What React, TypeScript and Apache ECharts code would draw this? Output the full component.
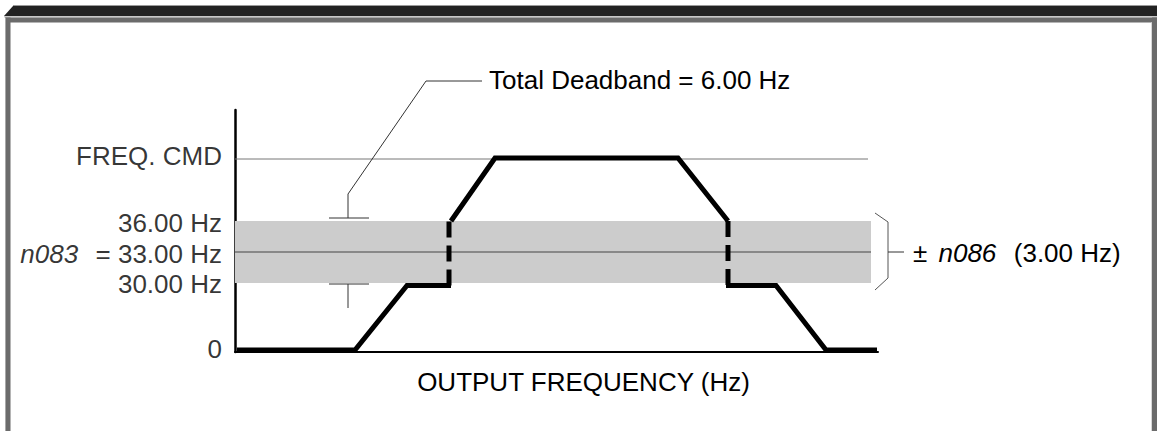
import React, { useEffect, useRef } from "react";
import * as echarts from "echarts";

// Schematic axis units (not to scale, as in the original diagram)
const X_MAX = 64.3;
const Y_MAX = 24.2;

// Y levels
const yLevelLabels = ["0", "30.00 Hz", "{i|n083}  = 33.00 Hz", "36.00 Hz", "FREQ. CMD"];
const yLevelValues = [0, 6.9, 10, 13.1, 19.3];
const yLabelNudge = [-3, 1, 1.5, 1.5, -3.5];

// Deadband band
const bandLow = 6.9;
const bandHigh = 13.1;
const bandEndX = 63.6;
const cmdLineEndX = 63.3;

// Output frequency trace (solid parts and dashed jumps)
const traceRise: number[][] = [[0.2, 0.2], [12.0, 0.2], [17.2, 6.65], [21.6, 6.65]];
const jumpUp: number[][] = [[21.4, 6.65], [21.4, 13.1]];
const traceTop: number[][] = [[21.6, 13.1], [26.0, 19.4], [44.3, 19.4], [49.3, 13.1]];
const jumpDown: number[][] = [[49.3, 13.1], [49.3, 6.65]];
const traceFall: number[][] = [[49.1, 6.65], [54.1, 6.65], [59.1, 0.2], [64.2, 0.2]];

// Annotations
const deadbandLeader: number[][] = [[24.7, 27.1], [19.1, 27.1], [11.3, 15.8], [11.3, 13.4]];
const deadbandTopTick: number[][] = [[9.4, 13.4], [13.4, 13.4]];
const deadbandBottomTick: number[][] = [[9.4, 6.8], [13.4, 6.8]];
const deadbandBottomStem: number[][] = [[11.3, 6.8], [11.3, 4.4]];
const bracket: number[][] = [[64.0, 13.9], [65.3, 13.0], [65.3, 7.4], [64.0, 6.2]];
const bracketTick: number[][] = [[65.3, 10], [66.9, 10]];
const deadbandTextAt = [25.4, 27.2];
const bracketTextAt = [67.8, 9.95];
const xTitleAt = [34.85, -2.97];

const FONT = "'Liberation Sans', Arial, Helvetica, sans-serif";
const FS = 26;
const INK = "#000";

export default function App() {
  const ref = useRef<HTMLDivElement>(null);
  useEffect(() => {
    if (!ref.current) return;
    const chart = echarts.init(ref.current, undefined, { renderer: "svg" });
    const thick = (data: number[][], dashed: boolean) => ({
      type: "line",
      data,
      symbol: "none",
      silent: true,
      z: 5,
      lineStyle: {
        color: "#000",
        width: 5,
        type: dashed ? [16, 8] : "solid",
        cap: "butt",
        join: "miter",
      },
    });
    chart.setOption({
      animation: false,
      grid: { left: 235, top: 110, width: 643, height: 242 },
      xAxis: {
        type: "value",
        min: 0,
        max: X_MAX,
        axisLine: { show: true, lineStyle: { color: "#000", width: 2 } },
        axisTick: { show: false },
        axisLabel: { show: false },
        splitLine: { show: false },
      },
      yAxis: {
        type: "value",
        min: 0,
        max: Y_MAX,
        axisLine: { show: true, onZero: false, lineStyle: { color: "#000", width: 2.5 } },
        axisTick: { show: false },
        axisLabel: { show: false },
        splitLine: { show: false },
      },
      series: [
        {
          type: "line",
          data: [],
          silent: true,
          z: 1,
          markArea: {
            silent: true,
            itemStyle: { color: "#cccccc" },
            data: [[{ coord: [0, bandLow] }, { coord: [bandEndX, bandHigh] }]],
          },
        },
        {
          type: "line",
          data: [[0, yLevelValues[4]], [cmdLineEndX, yLevelValues[4]]],
          symbol: "none",
          silent: true,
          z: 2,
          lineStyle: { color: "#777", width: 1 },
        },
        {
          type: "line",
          data: [[0, yLevelValues[2]], [bandEndX, yLevelValues[2]]],
          symbol: "none",
          silent: true,
          z: 2,
          lineStyle: { color: "#444", width: 1 },
        },
        thick(traceRise, false),
        thick(jumpUp, true),
        thick(traceTop, false),
        thick(jumpDown, true),
        thick(traceFall, false),
        {
          type: "scatter",
          symbolSize: 0,
          silent: true,
          z: 6,
          data: yLevelValues.map((v, i) => ({
            value: [0, v],
            label: {
              show: true,
              position: "left",
              distance: 13,
              offset: [0, yLabelNudge[i]],
              formatter: yLevelLabels[i],
              color: INK,
              fontFamily: FONT,
              fontSize: FS,
              rich: {
                i: { fontStyle: "italic", fontFamily: FONT, fontSize: FS, color: INK, padding: [0, 3, 0, 0] },
              },
            },
          })),
        },
      ],
    });

    const px = (p: number[]) => chart.convertToPixel({ gridIndex: 0 }, p) as number[];
    const poly = (pts: number[][], color: string) => ({
      type: "polyline",
      silent: true,
      z: 10,
      shape: { points: pts.map(px) },
      style: { stroke: color, lineWidth: 1, fill: null },
    });
    const W = 1157;
    const H = 431;
    const frameGray = "#6b6b6b";
    const dt = px(deadbandTextAt);
    const bt = px(bracketTextAt);
    const xt = px(xTitleAt);
    chart.setOption({
      graphic: [
        // frame
        { type: "rect", silent: true, z: 20, shape: { x: 13, y: 5, width: W - 13, height: 1 }, style: { fill: "#9a9a9a" } },
        { type: "polygon", silent: true, z: 20, shape: { points: [[13, 6], [W, 6], [W, 16], [4, 16]] }, style: { fill: "#222" } },
        { type: "rect", silent: true, z: 20, shape: { x: 4, y: 16, width: W - 4, height: 1.5 }, style: { fill: "#c8c8c8" } },
        { type: "rect", silent: true, z: 20, shape: { x: 5, y: 17.5, width: W - 5, height: 5 }, style: { fill: frameGray } },
        { type: "rect", silent: true, z: 20, shape: { x: 5, y: 17.5, width: 5.5, height: H - 17.5 }, style: { fill: frameGray } },
        { type: "rect", silent: true, z: 21, shape: { x: 5, y: 17.5, width: 1, height: H - 17.5 }, style: { fill: "#a8a8a8" } },
        { type: "rect", silent: true, z: 20, shape: { x: 1152, y: 17.5, width: 5, height: H - 17.5 }, style: { fill: frameGray } },
        { type: "rect", silent: true, z: 21, shape: { x: 1151, y: 22.5, width: 1, height: H - 22.5 }, style: { fill: "#d8d8d8" } },
        // annotations
        poly(deadbandLeader, "#333"),
        poly(deadbandTopTick, "#333"),
        poly(deadbandBottomTick, "#333"),
        poly(deadbandBottomStem, "#333"),
        poly(bracket, "#555"),
        poly(bracketTick, "#333"),
        {
          type: "text",
          silent: true,
          z: 10,
          x: dt[0],
          y: dt[1],
          style: {
            text: "Total Deadband = 6.00 Hz",
            fill: INK,
            font: `${FS}px ${FONT}`,
            textAlign: "left",
            textVerticalAlign: "middle",
          },
        },
        {
          type: "text",
          silent: true,
          z: 10,
          x: bt[0],
          y: bt[1],
          style: {
            text: "{n|± }{i|n086}{n|  (3.00 Hz)}",
            fill: INK,
            font: `${FS}px ${FONT}`,
            textAlign: "left",
            textVerticalAlign: "middle",
            rich: {
              n: { fontFamily: FONT, fontSize: FS, fill: INK },
              i: { fontFamily: FONT, fontSize: FS, fontStyle: "italic", fill: INK, padding: [0, 3, 0, 4] },
            },
          },
        },
        {
          type: "text",
          silent: true,
          z: 10,
          x: xt[0],
          y: xt[1],
          style: {
            text: "OUTPUT FREQUENCY (Hz)",
            fill: INK,
            font: `${FS}px ${FONT}`,
            textAlign: "center",
            textVerticalAlign: "middle",
          },
        },
      ],
    });
    return () => chart.dispose();
  }, []);
  return (
    <div
      ref={ref}
      style={{ position: "fixed", left: 0, top: 0, width: 1157, height: 431, background: "#fff" }}
    />
  );
}
